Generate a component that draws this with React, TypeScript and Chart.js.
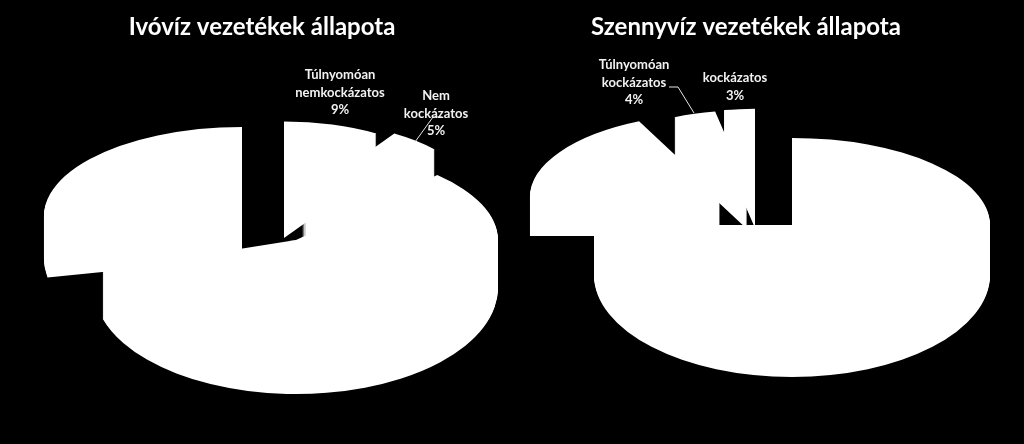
import { useEffect, useRef } from 'react'
import { Chart, registerables } from 'chart.js'

Chart.register(...registerables)

// Ivóvíz
const ivoTitle = 'Ivóvíz vezetékek állapota'
const ivoLabels = [['Túlnyomóan', 'nemkockázatos'], ['Nem', 'kockázatos'], [], []]
const ivoValues = [9, 5, 58, 28]

// Szennyvíz
const szennyTitle = 'Szennyvíz vezetékek állapota'
const szennyLabels = [[], [], ['Túlnyomóan', 'kockázatos'], ['kockázatos']]
const szennyValues = [75, 18, 4, 3]

const PIE_RADIUS = 198

// where each exploded slice sits on the page (x, y of apex), plus its perspective scale,
// wall height and the small turn (degrees) the 3D projection gives it
const ivoSlices = [
  { x: 284, y: 199, scale: 0.87, depth: 39, turn: 0 },
  { x: 302, y: 199, scale: 0.87, depth: 44, turn: 0 },
  { x: 296, y: 240, scale: 1.02, depth: 48, turn: -6 },
  { x: 242, y: 216, scale: 1, depth: 42, turn: 0 }
]
const szennySlices = [
  { x: 792, y: 225, scale: 1, depth: 50, turn: 0 },
  { x: 720, y: 197, scale: 0.96, depth: 39, turn: 0 },
  { x: 747, y: 185, scale: 0.86, depth: 44, turn: 0 },
  { x: 755, y: 182, scale: 0.84, depth: 46, turn: 0 }
]

// label anchors (centre x, first line y) and leader lines
const ivoLabelPos = [{ x: 340, y: 75 }, { x: 436, y: 96 }, null, null]
const szennyLabelPos = [null, null, { x: 634, y: 65 }, { x: 735, y: 78 }]
const ivoLeaders = [[[415, 142], [433, 117], [442, 117]]]
const szennyLeaders = [[[694, 113], [678, 87], [669, 87]]]

const tiltPlugin = {
  id: 'tilt',
  beforeDatasetDraw(chart: any, args: any, opts: any) {
    const ctx = chart.ctx
    const arcs = chart.getDatasetMeta(args.index).data
    arcs.forEach((arc: any, i: number) => {
      const s = opts.slices[i]
      const px = s.x - opts.left
      for (let d = s.depth; d >= 0; d--) {
        const midY = s.y + d
        // rear half of the disc is flatter than the front half
        for (const back of [true, false]) {
          const ky = back ? opts.rear : opts.front
          ctx.save()
          ctx.beginPath()
          if (back) ctx.rect(0, 0, chart.width, midY + 0.5)
          else ctx.rect(0, midY, chart.width, chart.height - midY)
          ctx.clip()
          ctx.translate(px, midY)
          ctx.scale(s.scale, s.scale * ky)
          ctx.rotate((s.turn * Math.PI) / 180)
          ctx.translate(-arc.x, -arc.y)
          arc.draw(ctx)
          ctx.restore()
        }
      }
    })
    return false
  },
  afterDatasetsDraw(chart: any, _args: any, opts: any) {
    const ctx = chart.ctx
    ctx.save()
    ctx.strokeStyle = '#e6e6e6'
    ctx.lineWidth = 1
    opts.leaders.forEach((pts: number[][]) => {
      ctx.beginPath()
      pts.forEach(([x, y], i) => {
        if (i === 0) ctx.moveTo(x - opts.left, y)
        else ctx.lineTo(x - opts.left, y)
      })
      ctx.stroke()
    })
    ctx.fillStyle = '#f2f2f2'
    ctx.font = 'bold 13px Lato'
    ctx.textAlign = 'center'
    ctx.textBaseline = 'middle'
    chart.data.labels.forEach((label: string[], i: number) => {
      const pos = opts.labelPos[i]
      if (!pos) return
      const lines = [...label, chart.data.datasets[0].data[i] + '%']
      lines.forEach((line, k) => {
        ctx.fillText(line, pos.x - opts.left, pos.y + k * 17.5)
      })
    })
    ctx.restore()
  }
}

function PieCanvas({ title, labels, values, slices, labelPos, leaders, left, width, rear, front }: any) {
  const canvasRef = useRef<HTMLCanvasElement>(null)

  useEffect(() => {
    if (!canvasRef.current) return
    const chart = new Chart(canvasRef.current, {
      type: 'pie',
      data: {
        labels,
        datasets: [
          {
            data: values,
            backgroundColor: '#ffffff',
            borderWidth: 0,
            radius: PIE_RADIUS
          }
        ]
      },
      plugins: [tiltPlugin],
      options: {
        responsive: false,
        animation: false,
        devicePixelRatio: 1,
        events: [],
        layout: { padding: { top: 13 } },
        plugins: {
          legend: { display: false },
          tooltip: { enabled: false },
          title: {
            display: true,
            text: title,
            color: '#ffffff',
            font: { family: 'Lato', size: 24, weight: 'bold' },
            padding: 0
          },
          tilt: { slices, labelPos, leaders, left, rear, front }
        }
      } as any
    })
    return () => chart.destroy()
  }, [])

  return (
    <canvas
      ref={canvasRef}
      width={width}
      height={444}
      style={{ position: 'absolute', left, top: 0, width, height: 444 }}
    />
  )
}

export default function App() {
  return (
    <div style={{ position: 'fixed', left: 0, top: 0, width: 1024, height: 444, background: '#000', overflow: 'hidden' }}>
      <PieCanvas
        title={ivoTitle}
        labels={ivoLabels}
        values={ivoValues}
        slices={ivoSlices}
        labelPos={ivoLabelPos}
        leaders={ivoLeaders}
        left={0}
        width={524}
        rear={0.45}
        front={0.525}
      />
      <PieCanvas
        title={szennyTitle}
        labels={szennyLabels}
        values={szennyValues}
        slices={szennySlices}
        labelPos={szennyLabelPos}
        leaders={szennyLeaders}
        left={468}
        width={556}
        rear={0.44}
        front={0.515}
      />
    </div>
  )
}
